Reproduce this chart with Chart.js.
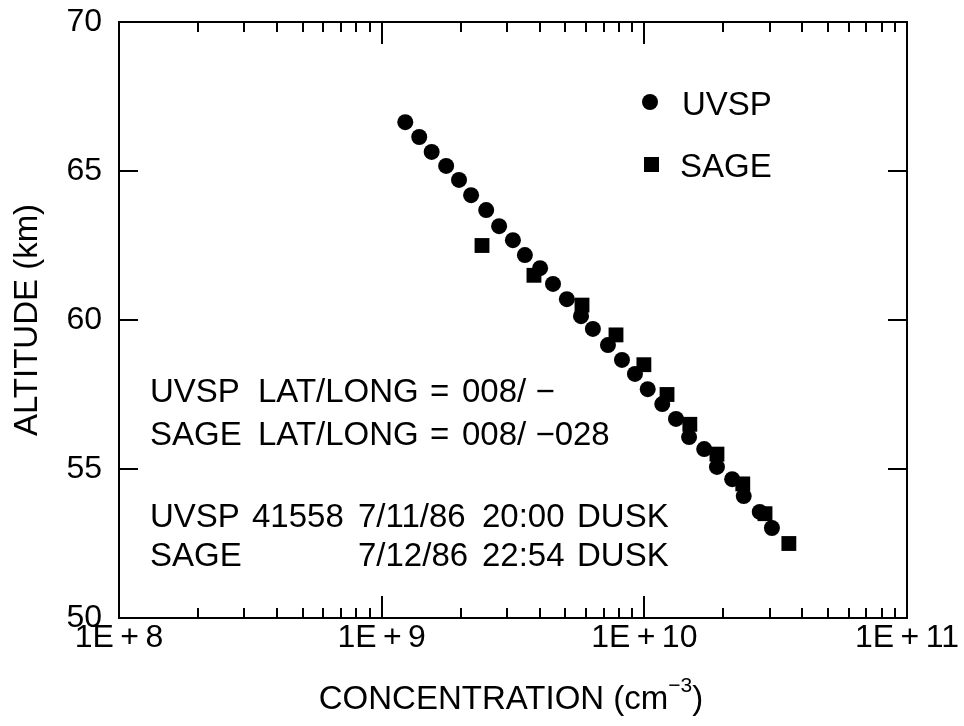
<!DOCTYPE html>
<html>
<head>
<meta charset="utf-8">
<script src="https://cdn.jsdelivr.net/npm/chart.js@4.4.0/dist/chart.umd.min.js"></script>
<style>
  html, body { margin: 0; padding: 0; background: #fff; }
  #wrap { width: 964px; height: 726px; position: relative; }
</style>
</head>
<body>
<div id="wrap"><canvas id="chart"></canvas></div>
<script>
// UVSP profile (circles)
const uvspConc = [1.23e9, 1.39e9, 1.55e9, 1.76e9, 1.97e9, 2.19e9, 2.50e9, 2.80e9, 3.16e9, 3.51e9,
                  4.01e9, 4.49e9, 5.07e9, 5.74e9, 6.37e9, 7.27e9, 8.22e9, 9.21e9, 1.03e10, 1.17e10,
                  1.32e10, 1.48e10, 1.69e10, 1.89e10, 2.16e10, 2.39e10, 2.75e10, 3.06e10];
const uvspAlt = [66.64, 66.14, 65.64, 65.17, 64.70, 64.19, 63.69, 63.15, 62.68, 62.18,
                 61.74, 61.21, 60.70, 60.13, 59.70, 59.16, 58.66, 58.19, 57.68, 57.18,
                 56.68, 56.07, 55.67, 55.07, 54.66, 54.09, 53.56, 53.02];

// SAGE profile (squares)
const sageConc = [2.41e9, 3.80e9, 5.79e9, 7.80e9, 9.96e9, 1.22e10, 1.49e10, 1.89e10, 2.37e10, 2.88e10, 3.55e10];
const sageAlt = [62.5, 61.5, 60.5, 59.5, 58.5, 57.5, 56.5, 55.5, 54.5, 53.5, 52.5];

const xTickValues = [1e8, 1e9, 1e10, 1e11];
const xTickLabels = ['1E\u2009+\u20098', '1E\u2009+\u20099', '1E\u2009+\u200910', '1E\u2009+\u200911'];
const yTickValues = [50, 55, 60, 65, 70];

const seriesNames = ['UVSP', 'SAGE'];
const noteLines = [
    ['UVSP', 'LAT/LONG', '=', '008/ \u2212'],
    ['SAGE', 'LAT/LONG', '=', '008/ \u2212028'],
    ['UVSP', '41558', '7/11/86', '20:00', 'DUSK'],
    ['SAGE', '', '7/12/86', '22:54', 'DUSK']
];

const FONT = '"Liberation Sans", Arial, Helvetica, sans-serif';

function toPoints(xs, ys) {
    return xs.map((v, i) => ({ x: v, y: ys[i] }));
}

const framePlugin = {
    id: 'frame',
    beforeDatasetsDraw(chart) {
        const { ctx, chartArea: a, scales: { x, y } } = chart;
        ctx.save();
        ctx.strokeStyle = '#000';
        ctx.lineWidth = 2;
        ctx.strokeRect(a.left, a.top, a.right - a.left, a.bottom - a.top);
        ctx.beginPath();
        for (let d = 8; d < 11; d++) {
            for (let m = 1; m < 10; m++) {
                if (d === 8 && m === 1) continue;
                const px = Math.round(x.getPixelForValue(m * Math.pow(10, d)));
                const len = m === 1 ? 22 : 10;
                ctx.moveTo(px, a.bottom);
                ctx.lineTo(px, a.bottom - len);
                ctx.moveTo(px, a.top);
                ctx.lineTo(px, a.top + len);
            }
        }
        yTickValues.slice(1, -1).forEach(v => {
            const py = Math.round(y.getPixelForValue(v));
            ctx.moveTo(a.left, py);
            ctx.lineTo(a.left + 19, py);
            ctx.moveTo(a.right, py);
            ctx.lineTo(a.right - 19, py);
        });
        ctx.stroke();
        ctx.restore();
    },
    afterDraw(chart) {
        const { ctx } = chart;
        ctx.save();
        ctx.fillStyle = '#000';
        ctx.textBaseline = 'alphabetic';
        ctx.font = '33px ' + FONT;

        // legend
        ctx.beginPath();
        ctx.arc(650, 102, 8, 0, Math.PI * 2);
        ctx.fill();
        ctx.fillRect(644, 157, 15, 15);
        ctx.fillText(seriesNames[0], 682, 115);
        ctx.fillText(seriesNames[1], 680, 177);

        // notes
        const cols1 = [150, 258, 430, 462];
        const cols2 = [150, 252, 358, 482, 577];
        const base = [402, 445, 527, 566];
        noteLines.forEach((line, i) => {
            const cols = i < 2 ? cols1 : cols2;
            line.forEach((t, j) => ctx.fillText(t, cols[j], base[i]));
        });

        // x axis title with superscript
        const main = 'CONCENTRATION (cm';
        const sup = '\u22123';
        ctx.font = '33px ' + FONT;
        const w1 = ctx.measureText(main).width;
        ctx.font = '21px ' + FONT;
        const w2 = ctx.measureText(sup).width;
        ctx.font = '33px ' + FONT;
        const w3 = ctx.measureText(')').width;
        let sx = 511 - (w1 + w2 + w3) / 2;
        ctx.fillText(main, sx, 709);
        ctx.font = '21px ' + FONT;
        ctx.fillText(sup, sx + w1, 692);
        ctx.font = '33px ' + FONT;
        ctx.fillText(')', sx + w1 + w2, 709);
        ctx.restore();
    }
};

const ctx = document.getElementById('chart').getContext('2d');
const chart = new Chart(ctx, {
    type: 'scatter',
    data: {
        datasets: [{
            label: seriesNames[0],
            data: toPoints(uvspConc, uvspAlt),
            pointStyle: 'circle',
            pointRadius: 8,
            backgroundColor: '#000',
            borderWidth: 0
        }, {
            label: seriesNames[1],
            data: toPoints(sageConc, sageAlt),
            pointStyle: 'rect',
            pointRadius: 10.5,
            backgroundColor: '#000',
            borderWidth: 0
        }]
    },
    options: {
        responsive: true,
        maintainAspectRatio: false,
        animation: false,
        layout: { padding: { left: 0, top: 22, right: 57, bottom: 0 } },
        plugins: {
            legend: { display: false },
            tooltip: { enabled: false }
        },
        scales: {
            x: {
                type: 'logarithmic',
                min: 1e8,
                max: 1e11,
                grid: { display: false, drawTicks: false },
                border: { display: false },
                afterBuildTicks: scale => {
                    scale.ticks = xTickValues.map(v => ({ value: v }));
                },
                ticks: {
                    autoSkip: false,
                    maxRotation: 0,
                    padding: 1,
                    color: '#000',
                    font: { family: FONT, size: 32 },
                    callback: value => xTickLabels[xTickValues.indexOf(value)]
                },
                afterFit: scale => {
                    scale.height = 108;
                    scale.paddingLeft = 0;
                    scale.paddingRight = 0;
                }
            },
            y: {
                min: 50,
                max: 70,
                grid: { display: false, drawTicks: false },
                border: { display: false },
                afterBuildTicks: scale => {
                    scale.ticks = yTickValues.map(v => ({ value: v }));
                },
                ticks: {
                    padding: 17,
                    color: '#000',
                    font: { family: FONT, size: 32 }
                },
                title: {
                    display: true,
                    text: 'ALTITUDE (km)',
                    color: '#000',
                    padding: { top: 8, bottom: 0 },
                    font: { family: FONT, size: 33 }
                },
                afterFit: scale => {
                    scale.width = 119;
                    scale.paddingTop = 0;
                    scale.paddingBottom = 0;
                }
            }
        }
    },
    plugins: [framePlugin]
});
</script>
</body>
</html>
